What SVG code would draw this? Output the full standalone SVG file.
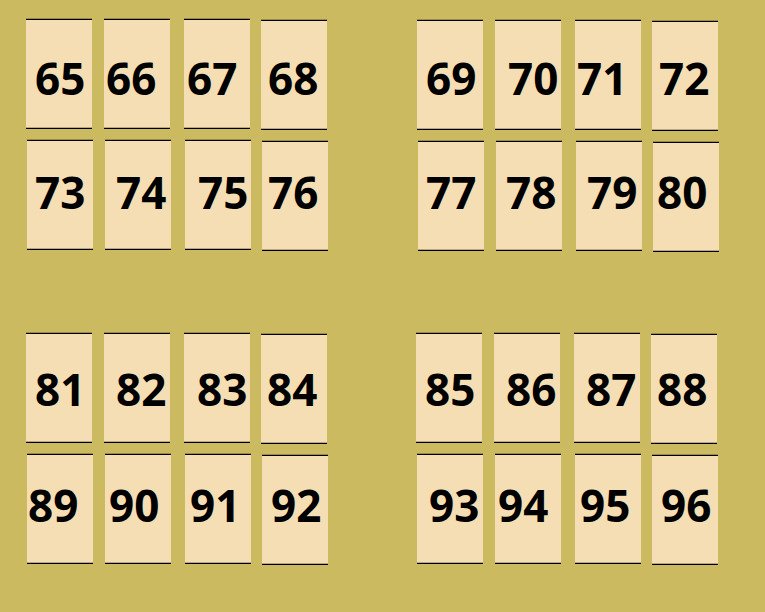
<svg xmlns="http://www.w3.org/2000/svg" width="765" height="612" viewBox="0 0 765 612">
<style>
.card{fill:#F5DEB3}
.edge{stroke:#000;stroke-width:1.3}
.lbl{font-family:"Open Sans","Noto Sans","Liberation Sans",sans-serif;font-weight:700;font-size:44px;fill:#000}
</style>
<rect width="765" height="612" fill="#CBBA60"/>
<g id="n65"><rect class="card" x="26" y="19.3" width="66" height="109"/><line class="edge" x1="26" y1="19.3" x2="92" y2="19.3"/><line class="edge" x1="26" y1="128.3" x2="92" y2="128.3"/><text class="lbl" x="35" y="94.5">65</text></g>
<g id="n66"><rect class="card" x="104" y="19.3" width="66" height="109"/><line class="edge" x1="104" y1="19.3" x2="170" y2="19.3"/><line class="edge" x1="104" y1="128.3" x2="170" y2="128.3"/><text class="lbl" x="106" y="94.5">66</text></g>
<g id="n67"><rect class="card" x="184" y="19.3" width="66" height="109"/><line class="edge" x1="184" y1="19.3" x2="250" y2="19.3"/><line class="edge" x1="184" y1="128.3" x2="250" y2="128.3"/><text class="lbl" x="187" y="94.5">67</text></g>
<g id="n68"><rect class="card" x="261" y="20.3" width="66" height="109"/><line class="edge" x1="261" y1="20.3" x2="327" y2="20.3"/><line class="edge" x1="261" y1="129.3" x2="327" y2="129.3"/><text class="lbl" x="268" y="94.5">68</text></g>
<g id="n69"><rect class="card" x="417" y="20.3" width="66" height="109"/><line class="edge" x1="417" y1="20.3" x2="483" y2="20.3"/><line class="edge" x1="417" y1="129.3" x2="483" y2="129.3"/><text class="lbl" x="426" y="94.5">69</text></g>
<g id="n70"><rect class="card" x="495" y="20.3" width="66" height="109"/><line class="edge" x1="495" y1="20.3" x2="561" y2="20.3"/><line class="edge" x1="495" y1="129.3" x2="561" y2="129.3"/><text class="lbl" x="508" y="94.5">70</text></g>
<g id="n71"><rect class="card" x="575" y="20.3" width="66" height="109"/><line class="edge" x1="575" y1="20.3" x2="641" y2="20.3"/><line class="edge" x1="575" y1="129.3" x2="641" y2="129.3"/><text class="lbl" x="577" y="94.5">71</text></g>
<g id="n72"><rect class="card" x="652" y="21.3" width="66" height="109"/><line class="edge" x1="652" y1="21.3" x2="718" y2="21.3"/><line class="edge" x1="652" y1="130.3" x2="718" y2="130.3"/><text class="lbl" x="659" y="94.5">72</text></g>
<g id="n73"><rect class="card" x="27" y="140.3" width="66" height="109"/><line class="edge" x1="27" y1="140.3" x2="93" y2="140.3"/><line class="edge" x1="27" y1="249.3" x2="93" y2="249.3"/><text class="lbl" x="35" y="208.5">73</text></g>
<g id="n74"><rect class="card" x="105" y="140.3" width="66" height="109"/><line class="edge" x1="105" y1="140.3" x2="171" y2="140.3"/><line class="edge" x1="105" y1="249.3" x2="171" y2="249.3"/><text class="lbl" x="116" y="208.5">74</text></g>
<g id="n75"><rect class="card" x="185" y="140.3" width="66" height="109"/><line class="edge" x1="185" y1="140.3" x2="251" y2="140.3"/><line class="edge" x1="185" y1="249.3" x2="251" y2="249.3"/><text class="lbl" x="198" y="208.5">75</text></g>
<g id="n76"><rect class="card" x="262" y="141.3" width="66" height="109"/><line class="edge" x1="262" y1="141.3" x2="328" y2="141.3"/><line class="edge" x1="262" y1="250.3" x2="328" y2="250.3"/><text class="lbl" x="268" y="208.5">76</text></g>
<g id="n77"><rect class="card" x="418" y="141.3" width="66" height="109"/><line class="edge" x1="418" y1="141.3" x2="484" y2="141.3"/><line class="edge" x1="418" y1="250.3" x2="484" y2="250.3"/><text class="lbl" x="426" y="208.5">77</text></g>
<g id="n78"><rect class="card" x="496" y="141.3" width="66" height="109"/><line class="edge" x1="496" y1="141.3" x2="562" y2="141.3"/><line class="edge" x1="496" y1="250.3" x2="562" y2="250.3"/><text class="lbl" x="506" y="208.5">78</text></g>
<g id="n79"><rect class="card" x="576" y="141.3" width="66" height="109"/><line class="edge" x1="576" y1="141.3" x2="642" y2="141.3"/><line class="edge" x1="576" y1="250.3" x2="642" y2="250.3"/><text class="lbl" x="587" y="208.5">79</text></g>
<g id="n80"><rect class="card" x="653" y="142.3" width="66" height="109"/><line class="edge" x1="653" y1="142.3" x2="719" y2="142.3"/><line class="edge" x1="653" y1="251.3" x2="719" y2="251.3"/><text class="lbl" x="657" y="208.5">80</text></g>
<g id="n81"><rect class="card" x="26" y="333.3" width="66" height="109"/><line class="edge" x1="26" y1="333.3" x2="92" y2="333.3"/><line class="edge" x1="26" y1="442.3" x2="92" y2="442.3"/><text class="lbl" x="35" y="405.5">81</text></g>
<g id="n82"><rect class="card" x="104" y="333.3" width="66" height="109"/><line class="edge" x1="104" y1="333.3" x2="170" y2="333.3"/><line class="edge" x1="104" y1="442.3" x2="170" y2="442.3"/><text class="lbl" x="116" y="405.5">82</text></g>
<g id="n83"><rect class="card" x="184" y="333.3" width="66" height="109"/><line class="edge" x1="184" y1="333.3" x2="250" y2="333.3"/><line class="edge" x1="184" y1="442.3" x2="250" y2="442.3"/><text class="lbl" x="197" y="405.5">83</text></g>
<g id="n84"><rect class="card" x="261" y="334.3" width="66" height="109"/><line class="edge" x1="261" y1="334.3" x2="327" y2="334.3"/><line class="edge" x1="261" y1="443.3" x2="327" y2="443.3"/><text class="lbl" x="267" y="405.5">84</text></g>
<g id="n85"><rect class="card" x="416" y="333.3" width="66" height="109"/><line class="edge" x1="416" y1="333.3" x2="482" y2="333.3"/><line class="edge" x1="416" y1="442.3" x2="482" y2="442.3"/><text class="lbl" x="425" y="405.5">85</text></g>
<g id="n86"><rect class="card" x="494" y="333.3" width="66" height="109"/><line class="edge" x1="494" y1="333.3" x2="560" y2="333.3"/><line class="edge" x1="494" y1="442.3" x2="560" y2="442.3"/><text class="lbl" x="506" y="405.5">86</text></g>
<g id="n87"><rect class="card" x="574" y="333.3" width="66" height="109"/><line class="edge" x1="574" y1="333.3" x2="640" y2="333.3"/><line class="edge" x1="574" y1="442.3" x2="640" y2="442.3"/><text class="lbl" x="586" y="405.5">87</text></g>
<g id="n88"><rect class="card" x="651" y="334.3" width="66" height="109"/><line class="edge" x1="651" y1="334.3" x2="717" y2="334.3"/><line class="edge" x1="651" y1="443.3" x2="717" y2="443.3"/><text class="lbl" x="657" y="405.5">88</text></g>
<g id="n89"><rect class="card" x="27" y="454.3" width="66" height="109"/><line class="edge" x1="27" y1="454.3" x2="93" y2="454.3"/><line class="edge" x1="27" y1="563.3" x2="93" y2="563.3"/><text class="lbl" x="28" y="521.5">89</text></g>
<g id="n90"><rect class="card" x="105" y="454.3" width="66" height="109"/><line class="edge" x1="105" y1="454.3" x2="171" y2="454.3"/><line class="edge" x1="105" y1="563.3" x2="171" y2="563.3"/><text class="lbl" x="109" y="521.5">90</text></g>
<g id="n91"><rect class="card" x="185" y="454.3" width="66" height="109"/><line class="edge" x1="185" y1="454.3" x2="251" y2="454.3"/><line class="edge" x1="185" y1="563.3" x2="251" y2="563.3"/><text class="lbl" x="190" y="521.5">91</text></g>
<g id="n92"><rect class="card" x="262" y="455.3" width="66" height="109"/><line class="edge" x1="262" y1="455.3" x2="328" y2="455.3"/><line class="edge" x1="262" y1="564.3" x2="328" y2="564.3"/><text class="lbl" x="271" y="521.5">92</text></g>
<g id="n93"><rect class="card" x="417" y="454.3" width="66" height="109"/><line class="edge" x1="417" y1="454.3" x2="483" y2="454.3"/><line class="edge" x1="417" y1="563.3" x2="483" y2="563.3"/><text class="lbl" x="429" y="521.5">93</text></g>
<g id="n94"><rect class="card" x="495" y="454.3" width="66" height="109"/><line class="edge" x1="495" y1="454.3" x2="561" y2="454.3"/><line class="edge" x1="495" y1="563.3" x2="561" y2="563.3"/><text class="lbl" x="498" y="521.5">94</text></g>
<g id="n95"><rect class="card" x="575" y="454.3" width="66" height="109"/><line class="edge" x1="575" y1="454.3" x2="641" y2="454.3"/><line class="edge" x1="575" y1="563.3" x2="641" y2="563.3"/><text class="lbl" x="580" y="521.5">95</text></g>
<g id="n96"><rect class="card" x="652" y="455.3" width="66" height="109"/><line class="edge" x1="652" y1="455.3" x2="718" y2="455.3"/><line class="edge" x1="652" y1="564.3" x2="718" y2="564.3"/><text class="lbl" x="661" y="521.5">96</text></g>
<g id="connectors"></g>
</svg>
